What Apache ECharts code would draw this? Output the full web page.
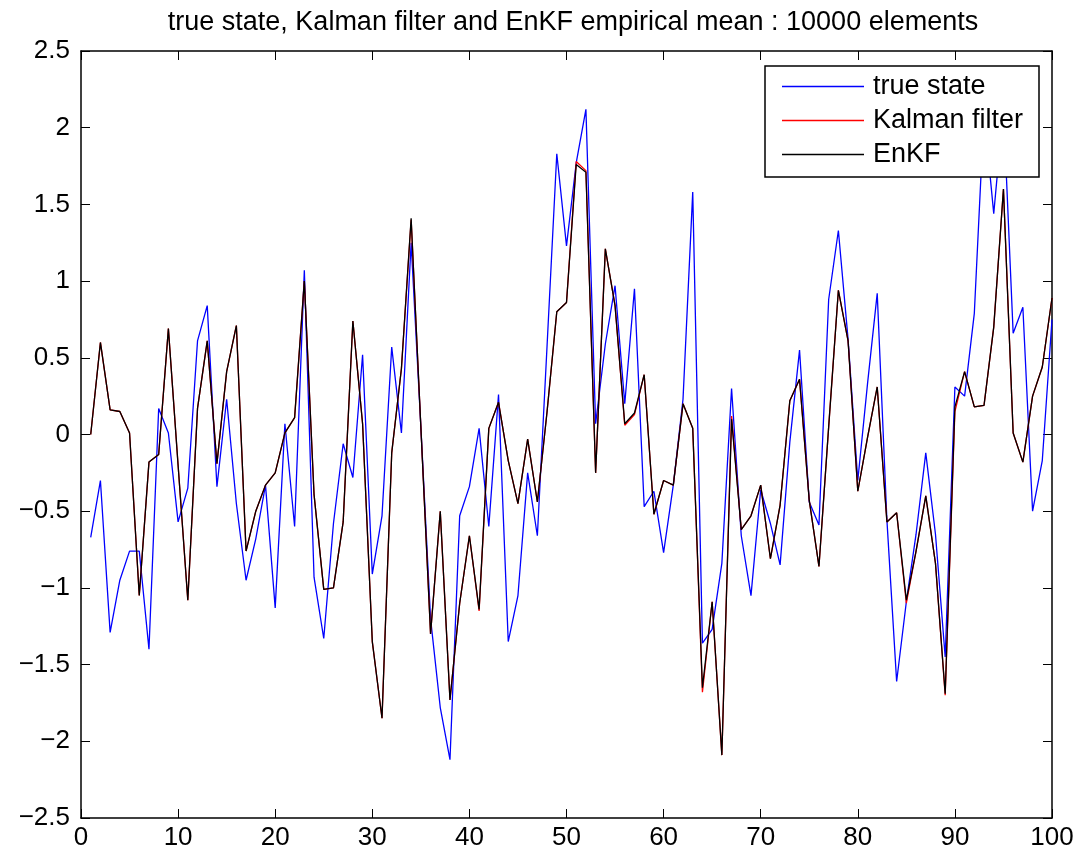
<!DOCTYPE html>
<html>
<head>
<meta charset="utf-8">
<script src="https://cdn.jsdelivr.net/npm/echarts@6/dist/echarts.min.js"></script>
<style>
html,body{margin:0;padding:0;background:#fff;}
#chart{width:1080px;height:858px;}
</style>
</head>
<body>
<div id="chart"></div>
<script>
// time steps 1..100
const steps = Array.from({length: 100}, (_, i) => i + 1);

const trueState = [
 -0.67,-0.30,-1.29,-0.95,-0.76,-0.76,-1.40, 0.17, 0.01,-0.57,
 -0.35, 0.61, 0.84,-0.34, 0.23,-0.45,-0.95,-0.68,-0.33,-1.13,
  0.07,-0.60, 1.07,-0.93,-1.33,-0.58,-0.06,-0.28, 0.52,-0.91,
 -0.53, 0.57, 0.01, 1.25, 0.05,-1.20,-1.78,-2.12,-0.53,-0.34,
  0.04,-0.60, 0.26,-1.35,-1.05,-0.25,-0.66, 0.58, 1.83, 1.23,
  1.77, 2.12, 0.07, 0.59, 0.97, 0.20, 0.95,-0.47,-0.37,-0.77,
 -0.33, 0.23, 1.58,-1.36,-1.27,-0.84, 0.30,-0.66,-1.05,-0.36,
 -0.58,-0.85,-0.05, 0.55,-0.44,-0.59, 0.88, 1.33, 0.62,-0.30,
  0.33, 0.92,-0.56,-1.61,-1.09,-0.65,-0.12,-0.65,-1.45, 0.31,
  0.25, 0.79, 2.10, 1.44, 2.13, 0.66, 0.83,-0.50,-0.17, 0.75
];

const kalman = [
  0.00, 0.60, 0.16, 0.15, 0.01,-1.05,-0.18,-0.13, 0.69,-0.20,
 -1.08, 0.17, 0.61,-0.19, 0.41, 0.71,-0.76,-0.50,-0.33,-0.25,
  0.01, 0.11, 1.00,-0.39,-1.01,-1.00,-0.57, 0.74, 0.07,-1.35,
 -1.85,-0.12, 0.43, 1.40, 0.05,-1.30,-0.50,-1.73,-1.10,-0.66,
 -1.15, 0.04, 0.21,-0.17,-0.45,-0.03,-0.44, 0.15, 0.80, 0.86,
  1.78, 1.72,-0.25, 1.21, 0.84, 0.06, 0.13, 0.39,-0.52,-0.30,
 -0.33, 0.20, 0.04,-1.68,-1.09,-2.09, 0.12,-0.62,-0.53,-0.33,
 -0.81,-0.46, 0.22, 0.36,-0.43,-0.86, 0.05, 0.94, 0.61,-0.37,
 -0.02, 0.31,-0.57,-0.51,-1.10,-0.76,-0.40,-0.84,-1.70, 0.15,
  0.41, 0.18, 0.19, 0.70, 1.60, 0.01,-0.18, 0.25, 0.44, 0.89
];

const enkf = [
  0.00, 0.60, 0.16, 0.15, 0.01,-1.05,-0.18,-0.13, 0.69,-0.20,
 -1.08, 0.17, 0.61,-0.19, 0.41, 0.71,-0.76,-0.50,-0.33,-0.25,
  0.01, 0.11, 1.00,-0.39,-1.01,-1.00,-0.57, 0.74, 0.07,-1.35,
 -1.85,-0.12, 0.43, 1.41, 0.05,-1.30,-0.50,-1.73,-1.10,-0.66,
 -1.14, 0.04, 0.21,-0.17,-0.45,-0.03,-0.44, 0.15, 0.80, 0.86,
  1.76, 1.71,-0.25, 1.21, 0.84, 0.07, 0.14, 0.39,-0.52,-0.30,
 -0.33, 0.20, 0.04,-1.65,-1.09,-2.09, 0.10,-0.62,-0.53,-0.33,
 -0.81,-0.46, 0.22, 0.36,-0.43,-0.86, 0.05, 0.94, 0.61,-0.37,
 -0.02, 0.31,-0.57,-0.51,-1.08,-0.76,-0.40,-0.84,-1.69, 0.18,
  0.41, 0.18, 0.19, 0.70, 1.60, 0.01,-0.18, 0.25, 0.44, 0.89
];

const seriesNames = ['true state', 'Kalman filter', 'EnKF'];
const seriesColors = ['#0000ff', '#ff0000', '#000000'];
const titleText = 'true state, Kalman filter and EnKF empirical mean : 10000 elements';

const FONT = 'Liberation Sans, Arial, Helvetica, sans-serif';
const pair = (arr) => steps.map((x, i) => [x, arr[i]]);

const chart = echarts.init(document.getElementById('chart'), null, {renderer: 'canvas'});

const axisCommon = {
  axisLine: {show: true, onZero: false, lineStyle: {color: '#000', width: 1.5}},
  axisTick: {show: true, inside: true, length: 9, lineStyle: {color: '#000', width: 1}},
  splitLine: {show: false}
};

const option = {
  backgroundColor: '#fff',
  animation: false,
  title: {
    text: titleText,
    left: 568,
    top: 4,
    textAlign: 'center',
    textStyle: {fontFamily: FONT, fontSize: 27, fontWeight: 'normal', color: '#000'}
  },
  grid: {left: 81, top: 51, width: 971, height: 767, containLabel: false},
  xAxis: [
    Object.assign({
      type: 'value', min: 0, max: 100, interval: 10, position: 'bottom',
      axisLabel: {color: '#000', fontFamily: FONT, fontSize: 26, margin: 7}
    }, axisCommon),
    Object.assign({
      type: 'value', min: 0, max: 100, interval: 10, position: 'top',
      axisLabel: {show: false}
    }, axisCommon)
  ],
  yAxis: [
    Object.assign({
      type: 'value', min: -2.5, max: 2.5, interval: 0.5, position: 'left',
      axisLabel: {color: '#000', fontFamily: FONT, fontSize: 26, margin: 11,
        formatter: (v) => String(Math.round(v * 10) / 10).replace('-', '\u2212')}
    }, axisCommon),
    Object.assign({
      type: 'value', min: -2.5, max: 2.5, interval: 0.5, position: 'right',
      axisLabel: {show: false}
    }, axisCommon)
  ],
  graphic: [{
    type: 'rect',
    z: 50,
    shape: {x: 765, y: 66, width: 274, height: 111},
    style: {fill: '#fff', stroke: '#000', lineWidth: 1.5}
  }],
  legend: {
    z: 60,
    orient: 'vertical',
    left: 782,
    top: 73,
    padding: 0,
    itemGap: 7,
    itemWidth: 82,
    itemHeight: 1.5,
    icon: 'rect',
    data: seriesNames,
    textStyle: {fontFamily: FONT, fontSize: 27, color: '#000', lineHeight: 27, padding: [0, 0, 0, 4]}
  },
  series: seriesNames.map((name, k) => ({
    name: name,
    type: 'line',
    data: pair([trueState, kalman, enkf][k]),
    showSymbol: false,
    symbol: 'none',
    lineStyle: {color: seriesColors[k], width: 1.3},
    itemStyle: {color: seriesColors[k]},
    z: 2 + k
  }))
};

chart.setOption(option);
</script>
</body>
</html>
